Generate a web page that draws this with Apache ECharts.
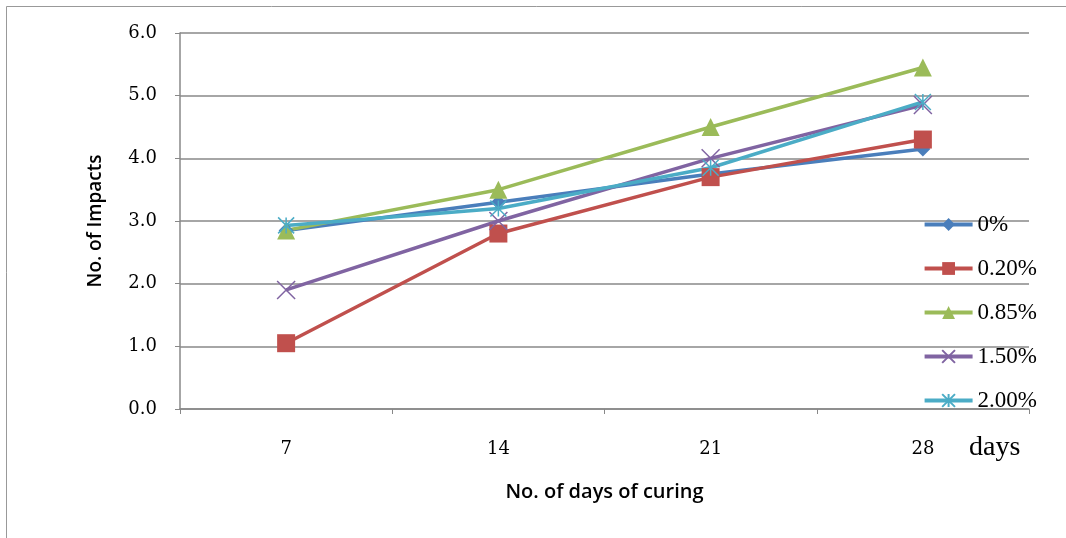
<!DOCTYPE html>
<html>
<head>
<meta charset="utf-8">
<script src="https://cdn.jsdelivr.net/npm/echarts@6/dist/echarts.min.js"></script>
<style>
html,body{margin:0;padding:0;background:#fff;}
#c{width:1066px;height:538px;}
</style>
</head>
<body>
<div id="c"></div>
<script>
const categories = ['7', '14', '21', '28'];
const yTicks = [0, 1, 2, 3, 4, 5, 6];
const seriesNames = ['0%', '0.20%', '0.85%', '1.50%', '2.00%'];
const s0 = [2.85, 3.3, 3.75, 4.15];
const s020 = [1.05, 2.8, 3.7, 4.3];
const s085 = [2.85, 3.5, 4.5, 5.45];
const s150 = [1.9, 3.0, 4.0, 4.85];
const s200 = [2.93, 3.2, 3.85, 4.9];

const colors = ['#4A7EBB', '#C0504D', '#9BBB59', '#8064A2', '#4BACC6'];
const X_PATH = 'path://M0,0L10,10M10,0L0,10';
const STAR_PATH = 'path://M0,0L10,10M10,0L0,10M5,0L5,10';

function mk(name, data, color, symbol, size, stroke) {
  const s = {
    name: name, type: 'line', data: data, symbol: symbol, symbolSize: size,
    lineStyle: {color: color, width: 3.5},
    itemStyle: {color: color},
    z: 2
  };
  if (stroke) {
    s.itemStyle = {color: 'rgba(0,0,0,0)', borderColor: color, borderWidth: 1.5};
  }
  return s;
}

const chart = echarts.init(document.getElementById('c'));
chart.setOption({
  animation: false,
  backgroundColor: '#fff',
  grid: {left: 180, top: 33, right: 37, bottom: 129},
  legend: {
    orient: 'vertical', right: 24, top: 208, itemGap: 21,
    itemWidth: 48, itemHeight: 16,
    lineStyle: {width: 4},
    textStyle: {fontFamily: 'Liberation Serif', fontSize: 23, color: '#000'},
    data: seriesNames
  },
  xAxis: {
    type: 'category', data: categories, boundaryGap: true,
    axisLine: {lineStyle: {color: '#888', width: 1.5}},
    axisTick: {show: true, length: 5, lineStyle: {color: '#888'}},
    axisLabel: {margin: 31, fontFamily: 'DejaVu Serif', fontSize: 18, color: '#000'},
    name: 'No. of days of curing', nameLocation: 'middle', nameGap: 73,
    nameTextStyle: {fontFamily: 'Open Sans', fontSize: 20, fontWeight: 600, color: '#000'}
  },
  yAxis: {
    type: 'value', min: yTicks[0], max: yTicks[yTicks.length - 1], interval: 1,
    axisLine: {show: true, lineStyle: {color: '#888', width: 1.5}},
    axisTick: {show: true, length: 5, inside: false, lineStyle: {color: '#888'}},
    splitLine: {lineStyle: {color: '#888', width: 1.5}},
    axisLabel: {margin: 23, fontFamily: 'DejaVu Serif', fontSize: 18, color: '#000',
      formatter: v => v.toFixed(1)},
    name: 'No. of Impacts', nameLocation: 'middle', nameGap: 75,
    nameTextStyle: {fontFamily: 'Open Sans', fontSize: 19, fontWeight: 600, color: '#000'}
  },
  graphic: [
    {type: 'rect', shape: {x: 6.5, y: 6.5, width: 1080, height: 560}, style: {fill: 'none', stroke: '#999', lineWidth: 1}, silent: true},
    {type: 'text', left: 969, top: 434, style: {text: 'days', font: '28px "Liberation Serif"', fill: '#000'}}
  ],
  series: [
    mk(seriesNames[0], s0, colors[0], 'diamond', 15, false),
    mk(seriesNames[1], s020, colors[1], 'rect', 18, false),
    mk(seriesNames[2], s085, colors[2], 'triangle', 18, false),
    mk(seriesNames[3], s150, colors[3], X_PATH, 18, true),
    mk(seriesNames[4], s200, colors[4], STAR_PATH, 16, true)
  ]
});
</script>
</body>
</html>
